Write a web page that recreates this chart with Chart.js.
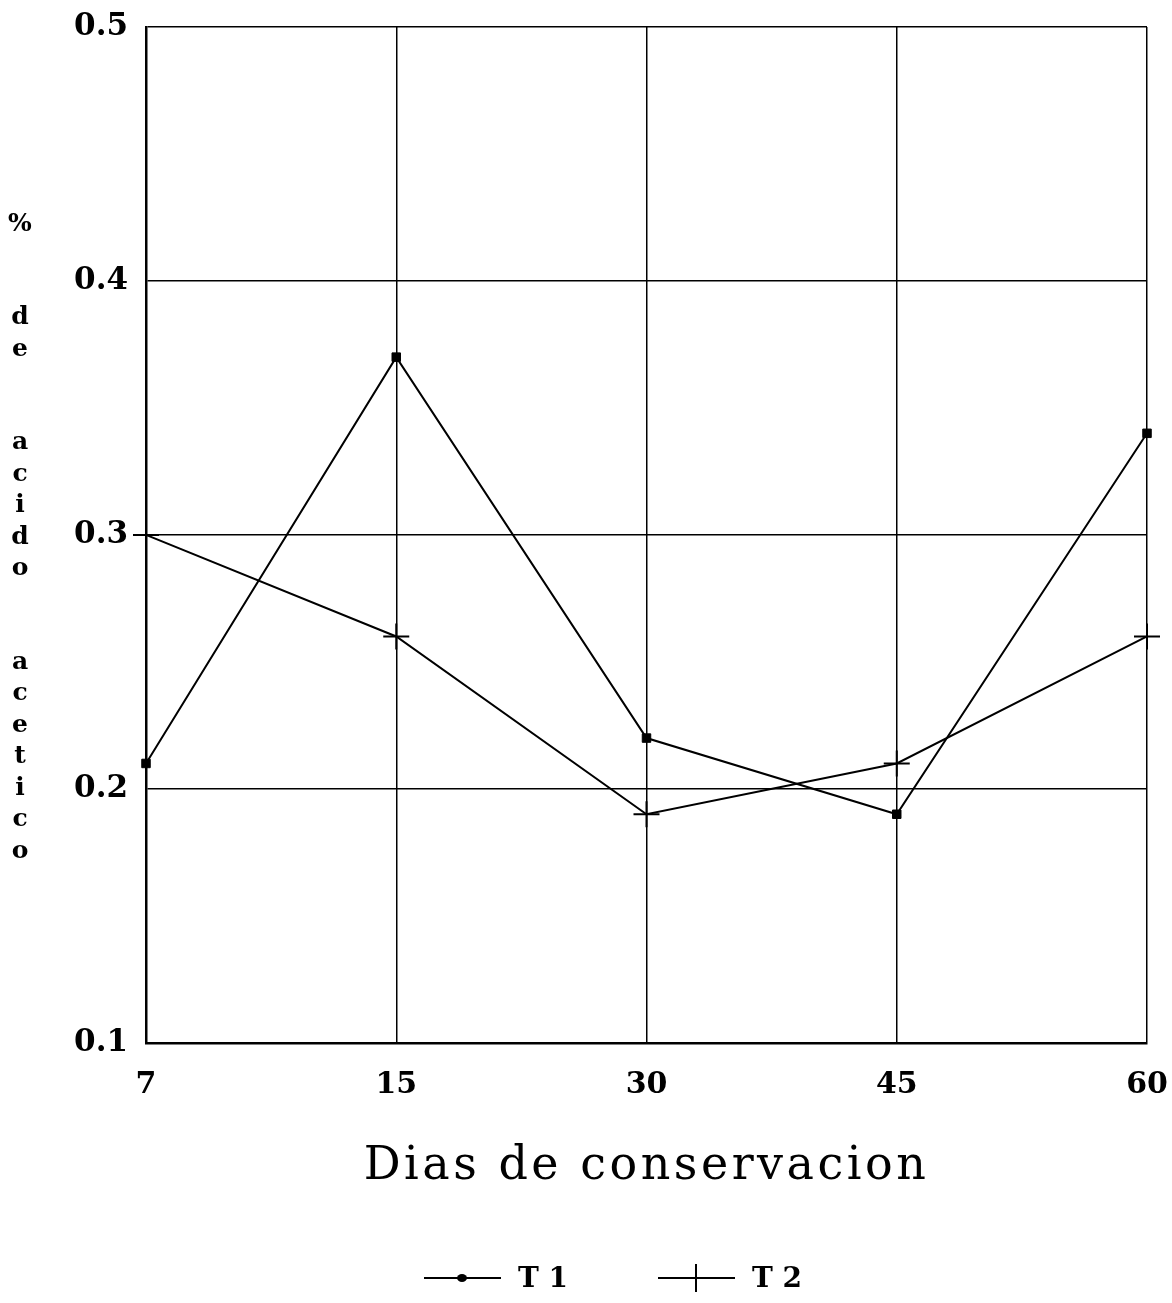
<!DOCTYPE html>
<html>
<head>
<meta charset="utf-8">
<script src="https://cdn.jsdelivr.net/npm/chart.js@4.4.1/dist/chart.umd.min.js"></script>
<style>
html, body { margin: 0; padding: 0; background: #fff; }
</style>
</head>
<body>
<canvas id="myChart" width="1172" height="1303"></canvas>
<script>
// chart values
const dias = ['7', '15', '30', '45', '60'];
const serieT1 = [0.21, 0.37, 0.22, 0.19, 0.34];
const serieT2 = [0.30, 0.26, 0.19, 0.21, 0.26];
const yTicks = [0.1, 0.2, 0.3, 0.4, 0.5];
const serieNames = ['T 1', 'T 2'];
const yTitle = '% de acido acetico';
const xTitle = 'Dias de conservacion';

const serif = '"DejaVu Serif", "Liberation Serif", serif';

// y title written one letter under the other
const yTitlePlugin =
{
    id: 'yTitle',
    afterDraw(chart)
    {
        const ctx = chart.ctx;
        ctx.save();
        ctx.font = 'bold 25px ' + serif;
        ctx.fillStyle = '#000';
        ctx.textAlign = 'center';
        ctx.textBaseline = 'middle';
        let y = 224;
        for (const ch of yTitle)
        {
            if (ch === ' ') { y += 62; continue; }
            ctx.fillText(ch, 20, y);
            y += 31.5;
        }
        ctx.restore();
    }
};

// the x title of the original is spaced out a little
const spacedTitlePlugin =
{
    id: 'spacedTitle',
    afterLayout(chart)
    {
        const sc = chart.scales.x;
        if (!sc || sc._spaced) return;
        const orig = sc.drawTitle;
        sc.drawTitle = function()
        {
            const ctx = this.ctx;
            ctx.save();
            ctx.letterSpacing = '3.5px';
            orig.call(this);
            ctx.restore();
        };
        sc._spaced = true;
    }
};

// legend under the x title: line with marker, then name
const legendPlugin =
{
    id: 'bottomLegend',
    afterDraw(chart)
    {
        const ctx = chart.ctx;
        const y = 1278;
        const starts = [424, 658];
        ctx.save();
        ctx.font = 'bold 28px ' + serif;
        ctx.textBaseline = 'middle';
        ctx.textAlign = 'left';
        ctx.strokeStyle = '#000';
        ctx.fillStyle = '#000';
        chart.data.datasets.forEach((ds, i) =>
        {
            const x0 = starts[i];
            const cx = x0 + 38;
            ctx.lineWidth = 2;
            ctx.beginPath();
            ctx.moveTo(x0, y);
            ctx.lineTo(x0 + 77, y);
            ctx.stroke();
            if (ds.pointStyle === 'cross')
            {
                ctx.beginPath();
                ctx.moveTo(cx, y - 14);
                ctx.lineTo(cx, y + 14);
                ctx.stroke();
            }
            else
            {
                ctx.beginPath();
                ctx.ellipse(cx, y, 5, 4, 0, 0, Math.PI * 2);
                ctx.fill();
            }
            ctx.fillText(ds.label, x0 + 94, y + 2);
        });
        ctx.restore();
    }
};

const myChart = document.getElementById('myChart').getContext('2d');

const chart_1 = new Chart(myChart,
{
    type: 'line',
    data:
    {
        labels: dias,
        datasets:
        [{
            label: serieNames[0],
            data: serieT1,
            borderColor: '#000',
            backgroundColor: '#000',
            borderWidth: 2,
            pointStyle: 'rect',
            pointRadius: 6,
            pointBorderWidth: 1,
            tension: 0,
            clip: false
        },
        {
            label: serieNames[1],
            data: serieT2,
            borderColor: '#000',
            backgroundColor: '#000',
            borderWidth: 2,
            pointStyle: 'cross',
            pointRadius: 13,
            pointBorderWidth: 2,
            tension: 0,
            clip: false
        }]
    },
    options:
    {
        responsive: false,
        animation: false,
        layout: { padding: { left: 0, right: 25, top: 27, bottom: 98 } },
        plugins:
        {
            legend: { display: false },
            tooltip: { enabled: false }
        },
        scales:
        {
            x:
            {
                offset: false,
                afterFit: (scale) => { scale.paddingLeft = 0; scale.paddingRight = 0; },
                grid: { color: '#000', lineWidth: 1.5, drawTicks: false },
                border: { color: '#000', width: 2.5 },
                ticks:
                {
                    color: '#000',
                    padding: 24,
                    maxRotation: 0,
                    autoSkip: false,
                    font: { family: serif, size: 30, weight: 'bold' }
                },
                title:
                {
                    display: true,
                    text: xTitle,
                    color: '#000',
                    font: { family: serif, size: 46, weight: 'normal' },
                    padding: { top: 13, bottom: 10 }
                }
            },
            y:
            {
                min: 0.1,
                max: 0.5,
                afterFit: (scale) =>
                {
                    scale.width = 146;
                    scale.paddingTop = 0;
                    scale.paddingBottom = 0;
                },
                afterBuildTicks: (scale) => { scale.ticks = yTicks.map(v => ({ value: v })); },
                grid: { color: '#000', lineWidth: 1.5, drawTicks: false },
                border: { color: '#000', width: 2.5 },
                ticks:
                {
                    color: '#000',
                    padding: 18,
                    font: { family: serif, size: 31, weight: 'bold' },
                    callback: (v) => Number(v).toFixed(1)
                }
            }
        }
    },
    plugins: [yTitlePlugin, spacedTitlePlugin, legendPlugin]
});
</script>
</body>
</html>
